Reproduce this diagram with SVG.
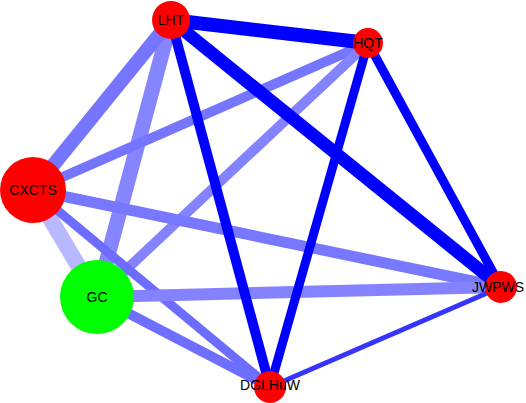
<svg xmlns="http://www.w3.org/2000/svg" width="526" height="403" viewBox="0 0 526 403">
<style>
.e{fill:none;stroke-linecap:butt}
.n{fill:#ff0000}
.t{font-family:"Liberation Sans",Arial,sans-serif;font-size:14px;fill:#000;text-anchor:middle;dominant-baseline:central}
</style>
<rect width="526" height="403" fill="#fff"/>
<g id="edges">
<line class="e" x1="33" y1="190" x2="97" y2="297" stroke="#b8b8ff" stroke-width="16"/>
<line class="e" x1="97" y1="297" x2="171" y2="20" stroke="#8585ff" stroke-width="15"/>
<line class="e" x1="33" y1="190" x2="171" y2="20" stroke="#7575ff" stroke-width="14"/>
<line class="e" x1="33" y1="190" x2="368" y2="43" stroke="#7575ff" stroke-width="10"/>
<line class="e" x1="97" y1="297" x2="368" y2="43" stroke="#8383ff" stroke-width="10"/>
<line class="e" x1="33" y1="190" x2="501" y2="287" stroke="#7777ff" stroke-width="11"/>
<line class="e" x1="33" y1="190" x2="270" y2="387" stroke="#6c6cff" stroke-width="9"/>
<line class="e" x1="97" y1="297" x2="501" y2="287" stroke="#8383ff" stroke-width="12"/>
<line class="e" x1="97" y1="297" x2="270" y2="387" stroke="#6e6eff" stroke-width="10"/>
<line class="e" x1="501" y1="287" x2="270" y2="387" stroke="#3535ff" stroke-width="5"/>
<line class="e" x1="171" y1="20" x2="270" y2="387" stroke="#0000ff" stroke-width="10"/>
<line class="e" x1="368" y1="43" x2="270" y2="387" stroke="#0000ff" stroke-width="9"/>
<line class="e" x1="368" y1="43" x2="501" y2="287" stroke="#0000ff" stroke-width="9"/>
<line class="e" x1="171" y1="20" x2="501" y2="287" stroke="#0000ff" stroke-width="13"/>
<line class="e" x1="171" y1="20" x2="368" y2="43" stroke="#0000ff" stroke-width="14"/>
</g>
<g id="LHT"><circle class="n" cx="171" cy="20" r="19"/><text class="t" x="171" y="20">LHT</text></g>
<g id="HQT"><circle class="n" cx="368" cy="43" r="15"/><text class="t" x="368" y="43">HQT</text></g>
<g id="CXCTS"><circle class="n" cx="33" cy="190" r="33"/><text class="t" x="33" y="190">CXCTS</text></g>
<g id="GC"><circle cx="97" cy="297" r="37" fill="#00ff00"/><text class="t" x="97" y="297">GC</text></g>
<g id="JWPWS"><circle class="n" cx="501" cy="287" r="16"/><text class="t" x="498" y="287">JWPWS</text></g>
<g id="DGLHuW"><circle class="n" cx="270" cy="387" r="16"/><text class="t" x="270" y="385">DGLHuW</text></g>
</svg>
